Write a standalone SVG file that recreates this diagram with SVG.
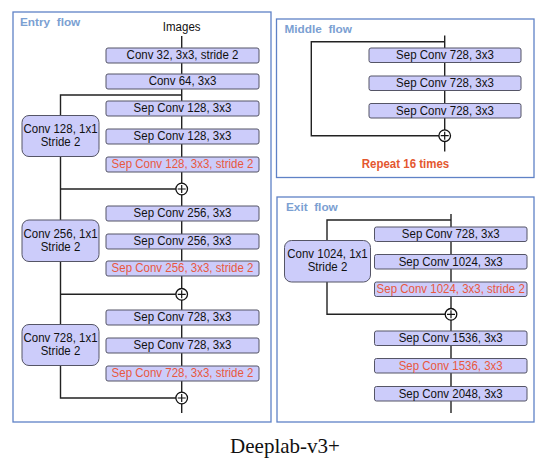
<svg xmlns="http://www.w3.org/2000/svg" width="546" height="466" viewBox="0 0 546 466">
<style>
.frame{fill:#ffffff;stroke:#5f82c6;stroke-width:1.3}
.ftitle{font-family:"Liberation Sans",Arial,sans-serif;font-size:11.8px;font-weight:bold;fill:#7ba0d2}
.box{fill:#ccccfa;stroke:#555566;stroke-width:1}
.side{fill:#ccccfa;stroke:#555566;stroke-width:1}
.t{font-family:"Liberation Sans",Arial,sans-serif;font-size:11.5px;fill:#111111;text-anchor:middle}
.r{fill:#e8583e}
.ln{fill:none;stroke:#222222;stroke-width:1.4}
.plus{fill:#ffffff;stroke:#111111;stroke-width:1.3}
.pl{fill:none;stroke:#111111;stroke-width:1.2}
</style>
<rect width="546" height="466" fill="#ffffff"/>
<g id="frames">
<rect class="frame" x="13" y="12" width="258" height="410"/>
<text class="ftitle" x="20" y="25.5" xml:space="preserve">Entry  flow</text>
<rect class="frame" x="276.5" y="19" width="257.5" height="158.5"/>
<text class="ftitle" x="284.5" y="32.5" xml:space="preserve">Middle  flow</text>
<rect class="frame" x="277" y="197" width="257" height="225"/>
<text class="ftitle" x="286" y="210.5" xml:space="preserve">Exit  flow</text>
</g>
<g id="connectors">
<path class="ln" d="M181.7,36 V413"/>
<path class="ln" d="M181.7,95 H60.5 V398 H181.7"/>
<path class="ln" d="M60.5,189 H181.7 M60.5,294.3 H181.7"/>
<path class="ln" d="M444.7,35.5 V151.5"/>
<path class="ln" d="M444.7,41.7 H311.3 V135.7 H444.7"/>
<path class="ln" d="M451,214 V413"/>
<path class="ln" d="M451,220 H327 V314.3 H451"/>
</g>
<g id="plus-nodes">
<g id="add1"><circle class="plus" cx="181.7" cy="189" r="5.8"/><path class="pl" d="M177.7,189 H185.7 M181.7,185 V193"/></g>
<g id="add2"><circle class="plus" cx="181.7" cy="294.3" r="5.8"/><path class="pl" d="M177.7,294.3 H185.7 M181.7,290.3 V298.3"/></g>
<g id="add3"><circle class="plus" cx="181.7" cy="398" r="5.8"/><path class="pl" d="M177.7,398 H185.7 M181.7,394 V402"/></g>
<g id="add4"><circle class="plus" cx="444.7" cy="135.7" r="5.8"/><path class="pl" d="M440.7,135.7 H448.7 M444.7,131.7 V139.7"/></g>
<g id="add5"><circle class="plus" cx="451" cy="314.3" r="5.8"/><path class="pl" d="M447,314.3 H455 M451,310.3 V318.3"/></g>
</g>
<g id="images"><text class="t" x="181.7" y="31" transform="matrix(1,0,0,1.1,0,-3.1)">Images</text></g>
<g id="e1"><rect class="box" x="106" y="48" width="153" height="15" rx="2"/><text class="t" x="182.5" y="59.5" transform="matrix(1,0,0,1.1,0,-5.95)">Conv 32, 3x3, stride 2</text></g>
<g id="e2"><rect class="box" x="106" y="74" width="153" height="15" rx="2"/><text class="t" x="182.5" y="85.5" transform="matrix(1,0,0,1.1,0,-8.55)">Conv 64, 3x3</text></g>
<g id="e3"><rect class="box" x="106" y="101" width="153" height="15" rx="2"/><text class="t" x="182.5" y="112.5" transform="matrix(1,0,0,1.1,0,-11.25)">Sep Conv 128, 3x3</text></g>
<g id="e4"><rect class="box" x="106" y="129" width="153" height="15" rx="2"/><text class="t" x="182.5" y="140.5" transform="matrix(1,0,0,1.1,0,-14.05)">Sep Conv 128, 3x3</text></g>
<g id="e5"><rect class="box" x="106" y="157" width="153" height="15" rx="2"/><text class="t r" x="182.5" y="168.5" transform="matrix(1,0,0,1.1,0,-16.85)">Sep Conv 128, 3x3, stride 2</text></g>
<g id="s1"><rect class="side" x="22" y="115.5" width="77" height="41" rx="7"/><text class="t" x="60.5" y="133" transform="matrix(1,0,0,1.1,0,-13.3)">Conv 128, 1x1</text><text class="t" x="60.5" y="146" transform="matrix(1,0,0,1.1,0,-14.6)">Stride 2</text></g>
<g id="e6"><rect class="box" x="106" y="206" width="153" height="15" rx="2"/><text class="t" x="182.5" y="217.5" transform="matrix(1,0,0,1.1,0,-21.75)">Sep Conv 256, 3x3</text></g>
<g id="e7"><rect class="box" x="106" y="234" width="153" height="15" rx="2"/><text class="t" x="182.5" y="245.5" transform="matrix(1,0,0,1.1,0,-24.55)">Sep Conv 256, 3x3</text></g>
<g id="e8"><rect class="box" x="106" y="261" width="153" height="15" rx="2"/><text class="t r" x="182.5" y="272.5" transform="matrix(1,0,0,1.1,0,-27.25)">Sep Conv 256, 3x3, stride 2</text></g>
<g id="s2"><rect class="side" x="22" y="220" width="77" height="41.5" rx="7"/><text class="t" x="60.5" y="238" transform="matrix(1,0,0,1.1,0,-23.8)">Conv 256, 1x1</text><text class="t" x="60.5" y="251" transform="matrix(1,0,0,1.1,0,-25.1)">Stride 2</text></g>
<g id="e9"><rect class="box" x="106" y="310" width="153" height="15" rx="2"/><text class="t" x="182.5" y="321.5" transform="matrix(1,0,0,1.1,0,-32.15)">Sep Conv 728, 3x3</text></g>
<g id="e10"><rect class="box" x="106" y="338" width="153" height="15" rx="2"/><text class="t" x="182.5" y="349.5" transform="matrix(1,0,0,1.1,0,-34.95)">Sep Conv 728, 3x3</text></g>
<g id="e11"><rect class="box" x="106" y="366" width="153" height="15" rx="2"/><text class="t r" x="182.5" y="377.5" transform="matrix(1,0,0,1.1,0,-37.75)">Sep Conv 728, 3x3, stride 2</text></g>
<g id="s3"><rect class="side" x="22" y="324.5" width="77" height="41" rx="7"/><text class="t" x="60.5" y="342" transform="matrix(1,0,0,1.1,0,-34.2)">Conv 728, 1x1</text><text class="t" x="60.5" y="355" transform="matrix(1,0,0,1.1,0,-35.5)">Stride 2</text></g>
<g id="m1"><rect class="box" x="369" y="48" width="152" height="14.5" rx="2"/><text class="t" x="445" y="59.2" transform="matrix(1,0,0,1.1,0,-5.92)">Sep Conv 728, 3x3</text></g>
<g id="m2"><rect class="box" x="369" y="76" width="152" height="14.5" rx="2"/><text class="t" x="445" y="87.2" transform="matrix(1,0,0,1.1,0,-8.72)">Sep Conv 728, 3x3</text></g>
<g id="m3"><rect class="box" x="369" y="103.5" width="152" height="14.5" rx="2"/><text class="t" x="445" y="114.7" transform="matrix(1,0,0,1.1,0,-11.47)">Sep Conv 728, 3x3</text></g>
<g id="repeat"><text x="405.5" y="168" transform="matrix(1,0,0,1.1,0,-16.8)" font-family="Liberation Sans, Arial, sans-serif" font-size="11.5" font-weight="bold" fill="#e4572f" text-anchor="middle">Repeat 16 times</text></g>
<g id="x1"><rect class="box" x="374.5" y="227" width="152.5" height="14.5" rx="2"/><text class="t" x="450.7" y="238.2" transform="matrix(1,0,0,1.1,0,-23.82)">Sep Conv 728, 3x3</text></g>
<g id="x2"><rect class="box" x="374.5" y="254.5" width="152.5" height="14.5" rx="2"/><text class="t" x="450.7" y="265.7" transform="matrix(1,0,0,1.1,0,-26.57)">Sep Conv 1024, 3x3</text></g>
<g id="x3"><rect class="box" x="374.5" y="282" width="152.5" height="14.5" rx="2"/><text class="t r" x="450.7" y="293.2" transform="matrix(1,0,0,1.1,0,-29.32)">Sep Conv 1024, 3x3, stride 2</text></g>
<g id="xs"><rect class="side" x="284.5" y="240.5" width="86" height="41.5" rx="7"/><text class="t" x="327.5" y="258.5" transform="matrix(1,0,0,1.1,0,-25.85)">Conv 1024, 1x1</text><text class="t" x="327.5" y="271.5" transform="matrix(1,0,0,1.1,0,-27.15)">Stride 2</text></g>
<g id="x4"><rect class="box" x="374.5" y="331" width="152.5" height="14.5" rx="2"/><text class="t" x="450.7" y="342.2" transform="matrix(1,0,0,1.1,0,-34.22)">Sep Conv 1536, 3x3</text></g>
<g id="x5"><rect class="box" x="374.5" y="358.5" width="152.5" height="14.5" rx="2"/><text class="t r" x="450.7" y="369.7" transform="matrix(1,0,0,1.1,0,-36.97)">Sep Conv 1536, 3x3</text></g>
<g id="x6"><rect class="box" x="374.5" y="386.5" width="152.5" height="14.5" rx="2"/><text class="t" x="450.7" y="397.7" transform="matrix(1,0,0,1.1,0,-39.77)">Sep Conv 2048, 3x3</text></g>
<g id="caption"><text x="285" y="453" font-family="Liberation Serif, Times New Roman, serif" font-size="21" fill="#111111" text-anchor="middle">Deeplab-v3+</text></g>
</svg>
